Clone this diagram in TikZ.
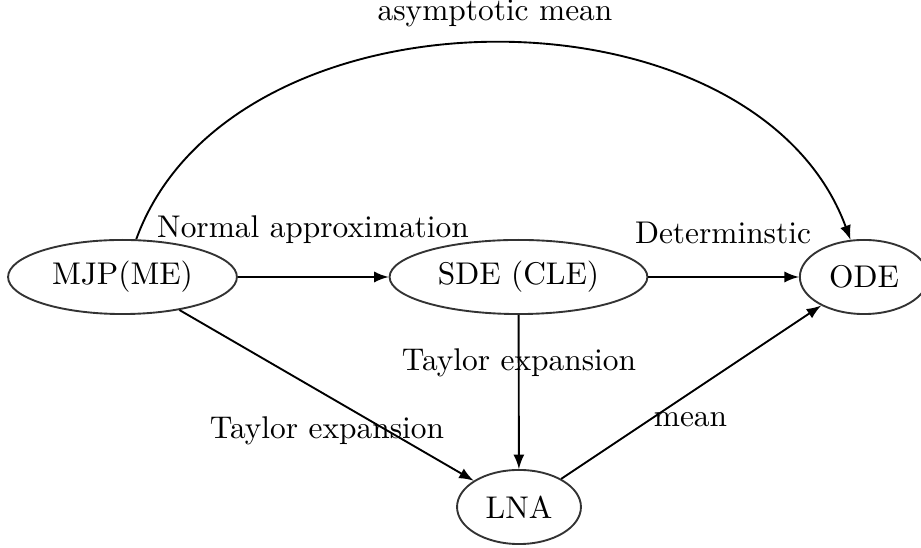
\documentclass[tikz,border=0pt]{standalone}
\usetikzlibrary{shapes.geometric}
\tikzset{
	model/.style={ellipse, draw=black!80, semithick, minimum height=23.6pt, inner sep=3.33pt},
	lbl/.style={anchor=base, inner sep=0pt},
}
\begin{document}
\begin{tikzpicture}[x=0.3185pt,y=0.3185pt, >=latex, semithick]
		\useasboundingbox (0,0) rectangle (921,-548);
		% the four models
		\node[model] (mjp) at (122.5,-277) {MJP(ME)};
		\node[model] (sde) at (518.5,-277) {SDE (CLE)};
		\node[model] (ode) at (864,-277) {ODE};
		\node[model] (lna) at (519,-507) {LNA};
		\draw[->] (mjp) -- (sde);
		\draw[->] (sde) -- (ode);
		\draw[->] (sde) -- (lna);
		\draw[->] (mjp) -- (lna);
		\draw[->] (lna) -- (ode);
		\draw[->] (mjp) to[out=70,in=110] (ode);
		\node[lbl] (asym) at (495,-21) {asymptotic mean};
		\node[lbl] (normal) at (313,-237.5) {Normal approximation};
		\node[lbl] (determ) at (723,-244) {Determinstic};
		\node[lbl] (taylorsde) at (519,-371) {Taylor expansion};
		\node[lbl] (taylormjp) at (327,-439) {Taylor expansion};
		\node[lbl] (mean) at (690.5,-427) {mean};
	\end{tikzpicture}
\end{document}
